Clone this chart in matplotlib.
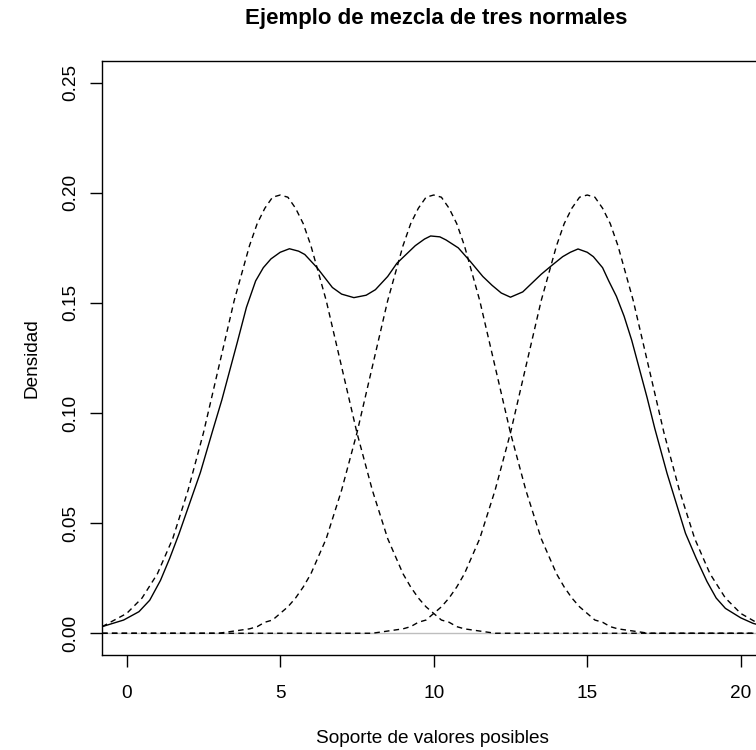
import numpy as np
import matplotlib
matplotlib.use("Agg")
from matplotlib import pyplot as plt

plt.rcParams['font.family'] = ['Liberation Sans', 'DejaVu Sans']

# ---------------- datos ----------------
# rejilla comun para las tres normales (componentes, linea discontinua)
x_comp = [-0.8, 0.0, 0.5, 1.0, 1.5, 2.0, 2.5, 3.0, 3.5, 4.0, 4.25, 4.5, 4.75, 5.0, 5.25,
          5.5, 5.75, 6.0, 6.5, 7.0, 7.5, 8.0, 8.5, 9.0, 9.25, 9.5, 9.75, 10.0, 10.25,
          10.5, 10.75, 11.0, 11.5, 12.0, 12.5, 13.0, 13.5, 14.0, 14.25, 14.5, 14.75,
          15.0, 15.25, 15.5, 15.75, 16.0, 16.5, 17.0, 17.5, 18.0, 18.5, 19.0, 19.5, 20.0,
          20.5, 20.8]
dens_n1 = [0.003, 0.009, 0.016, 0.027, 0.043, 0.065, 0.091, 0.121, 0.151, 0.176, 0.186,
           0.193, 0.198, 0.199, 0.198, 0.193, 0.186, 0.176, 0.151, 0.121, 0.091, 0.065,
           0.043, 0.027, 0.021, 0.016, 0.012, 0.009, 0.006, 0.005, 0.003, 0.002, 0.001,
           0.0, 0.0, 0.0, 0.0, 0.0, 0.0, 0.0, 0.0, 0.0, 0.0, 0.0, 0.0, 0.0, 0.0, 0.0,
           0.0, 0.0, 0.0, 0.0, 0.0, 0.0, 0.0, 0.0]
dens_n2 = [0.0, 0.0, 0.0, 0.0, 0.0, 0.0, 0.0, 0.0, 0.001, 0.002, 0.003, 0.005, 0.006,
           0.009, 0.012, 0.016, 0.021, 0.027, 0.043, 0.065, 0.091, 0.121, 0.151, 0.176,
           0.186, 0.193, 0.198, 0.199, 0.198, 0.193, 0.186, 0.176, 0.151, 0.121, 0.091,
           0.065, 0.043, 0.027, 0.021, 0.016, 0.012, 0.009, 0.006, 0.005, 0.003, 0.002,
           0.001, 0.0, 0.0, 0.0, 0.0, 0.0, 0.0, 0.0, 0.0, 0.0]
dens_n3 = [0.0, 0.0, 0.0, 0.0, 0.0, 0.0, 0.0, 0.0, 0.0, 0.0, 0.0, 0.0, 0.0, 0.0, 0.0,
           0.0, 0.0, 0.0, 0.0, 0.0, 0.0, 0.0, 0.001, 0.002, 0.003, 0.005, 0.006, 0.009,
           0.012, 0.016, 0.021, 0.027, 0.043, 0.065, 0.091, 0.121, 0.151, 0.176, 0.186,
           0.193, 0.198, 0.199, 0.198, 0.193, 0.186, 0.176, 0.151, 0.121, 0.091, 0.065,
           0.043, 0.027, 0.016, 0.009, 0.005, 0.003]

# mezcla (linea continua)
x_mix = [-0.8, -0.1, 0.4, 0.75, 1.1, 1.4, 1.7, 2.05, 2.4, 2.8, 3.1, 3.35, 3.6, 3.9, 4.2,
         4.45, 4.7, 5.0, 5.3, 5.6, 5.8, 6.2, 6.7, 7.0, 7.4, 7.8, 8.1, 8.5, 8.8, 9.1, 9.4,
         9.7, 9.9, 10.2, 10.4, 10.8, 11.2, 11.6, 11.9, 12.2, 12.5, 12.9, 13.2, 13.5, 13.8,
         14.2, 14.45, 14.7, 15.0, 15.2, 15.5, 15.7, 15.95, 16.2, 16.45, 16.7, 16.95, 17.2,
         17.6, 17.9, 18.2, 18.55, 18.9, 19.2, 19.5, 20.0, 20.4, 20.8]
dens_mix = [0.003, 0.006, 0.0098, 0.015, 0.024, 0.034, 0.045, 0.059, 0.073, 0.092, 0.106,
            0.119, 0.132, 0.148, 0.160, 0.166, 0.170, 0.173, 0.1746, 0.1735, 0.172, 0.166,
            0.157, 0.154, 0.1524, 0.1535, 0.156, 0.162, 0.168, 0.172, 0.176, 0.179, 0.1804,
            0.1800, 0.1786, 0.175, 0.1687, 0.162, 0.158, 0.1545, 0.1526, 0.155, 0.159,
            0.163, 0.1665, 0.171, 0.173, 0.1745, 0.173, 0.171, 0.166, 0.160, 0.153, 0.144,
            0.133, 0.120, 0.107, 0.093, 0.0726, 0.059, 0.0454, 0.034, 0.0235, 0.016,
            0.0113, 0.007, 0.0045, 0.003]

xticks = [0, 5, 10, 15, 20]
yticks = [0.00, 0.05, 0.10, 0.15, 0.20, 0.25]

# ---------------- figura ----------------
fig = plt.figure(figsize=(7.56, 7.5), dpi=100)
ax = fig.add_axes([0.1351, 0.1263, 0.8772, 0.7928])

ax.axhline(0, color='#BEBEBE', lw=1.0, zorder=1)
for d in (dens_n1, dens_n2, dens_n3):
    ax.plot(x_comp, d, color='black', lw=1.0, dashes=(4, 3), zorder=2)
ax.plot(x_mix, dens_mix, color='black', lw=1.0, zorder=3)

ax.set_xlim(-0.8, 20.8)
ax.set_ylim(-0.01, 0.26)
ax.set_xticks(xticks)
ax.set_xticklabels([str(t) for t in xticks])
ax.set_yticks(yticks)
ax.set_yticklabels(['%.2f' % t for t in yticks], rotation=90, va='center')
ax.tick_params(axis='both', direction='out', length=8.4, width=1.0,
               labelsize=13.7, color='black')
ax.tick_params(axis='x', pad=13)
ax.tick_params(axis='y', pad=8)
for s in ax.spines.values():
    s.set_linewidth(1.0)

fig.text(436 / 756, 1 - 24 / 750, 'Ejemplo de mezcla de tres normales',
         ha='center', va='baseline', fontsize=16, fontweight='bold')
fig.text(432.5 / 756, 1 - 743 / 750, 'Soporte de valores posibles',
         ha='center', va='baseline', fontsize=13.7)
fig.text(40 / 756, 1 - 358.5 / 750, 'Densidad', rotation=90,
         ha='right', va='center', fontsize=13.7)

fig.savefig('out.png', dpi=100)
